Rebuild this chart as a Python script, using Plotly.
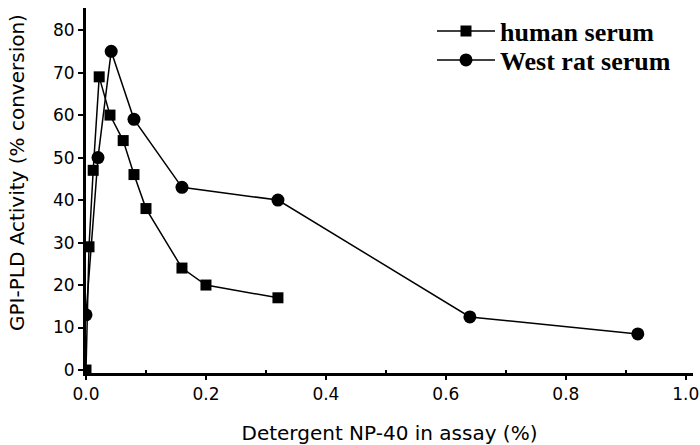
import plotly.graph_objects as go

human_x = [0.0, 0.005, 0.012, 0.022, 0.04, 0.062, 0.08, 0.1, 0.16, 0.2, 0.32]
human_y = [0, 29, 47, 69, 60, 54, 46, 38, 24, 20, 17]
rat_x = [0.0, 0.02, 0.042, 0.08, 0.16, 0.32, 0.64, 0.92]
rat_y = [13, 50, 75, 59, 43, 40, 12.5, 8.5]
x_ticks = [0.0, 0.2, 0.4, 0.6, 0.8, 1.0]
x_labels = ["0.0", "0.2", "0.4", "0.6", "0.8", "1.0"]
y_ticks = [0, 10, 20, 30, 40, 50, 60, 70, 80]

fig = go.Figure()
fig.add_trace(go.Scatter(x=human_x, y=human_y, mode="lines+markers", name="<b>human serum</b>",
                         line=dict(color="black", width=1.5), legend="legend",
                         marker=dict(symbol="square", size=11, color="black")))
fig.add_trace(go.Scatter(x=rat_x, y=rat_y, mode="lines+markers", name="<b>West rat serum</b>",
                         line=dict(color="black", width=1.5), legend="legend2",
                         marker=dict(symbol="circle", size=13, color="black")))

sans = "DejaVu Sans, Arial"
tick_font = dict(family=sans, size=17, color="black")
title_font = dict(family=sans, size=20, color="black")
leg_font = dict(family="Liberation Serif, Times New Roman", size=26, color="black")
leg_common = dict(xanchor="left", yanchor="middle", font=leg_font,
                  bgcolor="rgba(0,0,0,0)", itemwidth=58)
fig.update_layout(
    width=700, height=445,
    margin=dict(l=86, r=7, t=8, b=72, autoexpand=False),
    paper_bgcolor="white", plot_bgcolor="white",
    showlegend=True,
    legend=dict(x=0.57, y=1 - (31 - 8) / 365, **leg_common),
    legend2=dict(x=0.57, y=1 - (60 - 8) / 365, **leg_common),
    xaxis=dict(range=[0, 1.012], tickvals=x_ticks, ticktext=x_labels, automargin=False,
               showgrid=False, zeroline=False, showline=True, linecolor="black", linewidth=3,
               ticks="outside", ticklen=4, tickwidth=2, tickcolor="black",
               tickfont=tick_font,
               minor=dict(tickvals=[0.1, 0.3, 0.5, 0.7, 0.9], ticks="inside", ticklen=3, tickcolor="black", tickwidth=1.5),
               title=dict(text="Detergent NP-40 in assay (%)", font=title_font, standoff=23)),
    yaxis=dict(range=[-0.7, 85.2], tickvals=y_ticks, automargin=False,
               showgrid=False, zeroline=False, showline=True, linecolor="black", linewidth=3,
               ticks="outside", ticklen=5, tickwidth=2, tickcolor="black",
               tickfont=tick_font),
    annotations=[dict(text="GPI-PLD Activity (% conversion)", textangle=-90,
                      xref="paper", yref="paper", x=(17 - 86) / 607, y=1 - (173 - 8) / 365,
                      xanchor="center", yanchor="middle", showarrow=False, font=title_font)],
)
fig.write_html("out.html")
